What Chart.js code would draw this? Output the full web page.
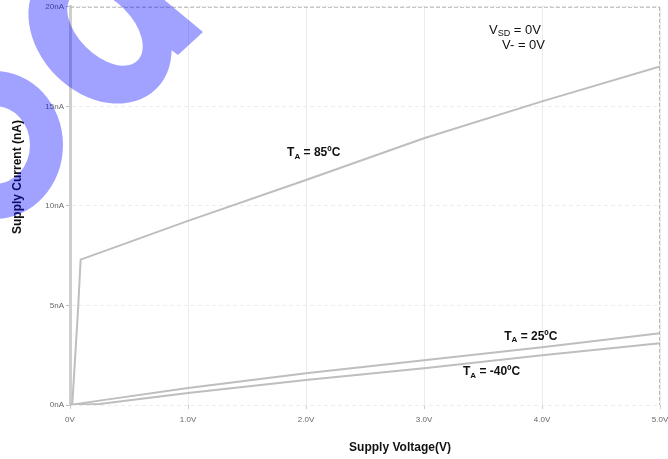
<!DOCTYPE html>
<html>
<head>
<meta charset="utf-8">
<script src="https://cdn.jsdelivr.net/npm/chart.js@4"></script>
<style>
  html, body { margin: 0; padding: 0; background: #fff; }
  #wrap { width: 668px; height: 459px; position: relative; }
</style>
</head>
<body>
<div id="wrap"><canvas id="supply-chart"></canvas></div>
<script>
// === data ===
const voltage85 = [0, 0.02, 0.05, 0.07, 0.09, 1, 2, 3, 4, 5];
const current85 = [0, 0.1, 3.0, 5.0, 7.3, 9.25, 11.3, 13.4, 15.25, 17.0];
const voltageLow = [0, 0.25, 1, 2, 3, 4, 5];
const current25 = [0, 0.22, 0.85, 1.6, 2.25, 2.9, 3.6];
const currentNeg40 = [0, 0.05, 0.6, 1.25, 1.85, 2.5, 3.1];

const xTickLabels = ["0V", "1.0V", "2.0V", "3.0V", "4.0V", "5.0V"];
const yTickLabels = ["0nA", "5nA", "10nA", "15nA", "20nA"];

// curve labels, placed in data units (volts, nA) - left edge / vertical centre
const curveLabels = [
  { pre: "T", sub: "A", text: " = 85ºC", v: 1.84, i: 12.65 },
  { pre: "T", sub: "A", text: " = 25ºC", v: 3.68, i: 3.45 },
  { pre: "T", sub: "A", text: " = -40ºC", v: 3.33, i: 1.65 }
];

const FONT = "'Liberation Sans', Arial, sans-serif";

function toPoints(xs, ys) {
  return xs.map((x, k) => ({ x: x, y: ys[k] }));
}

// draws "T" + subscript + rest, left aligned
function drawSubText(ctx, x, y, pre, sub, rest, size, bold) {
  const w = bold ? "bold " : "";
  ctx.textBaseline = "middle";
  ctx.textAlign = "left";
  ctx.font = w + size + "px " + FONT;
  ctx.fillText(pre, x, y);
  x += ctx.measureText(pre).width;
  ctx.font = w + Math.round(size * 0.7) + "px " + FONT;
  ctx.fillText(sub, x, y + size * 0.3);
  x += ctx.measureText(sub).width;
  ctx.font = w + size + "px " + FONT;
  ctx.fillText(rest, x, y);
}

const decorPlugin = {
  id: "decor",
  afterDatasetsDraw(chart) {
    const { ctx, chartArea: a, scales } = chart;
    ctx.save();
    // dashed frame top + right
    ctx.strokeStyle = "#b8b8b8";
    ctx.lineWidth = 1;
    ctx.setLineDash([4, 2]);
    ctx.beginPath();
    ctx.moveTo(a.left, a.top + 0.5);
    ctx.lineTo(a.right - 0.5, a.top + 0.5);
    ctx.moveTo(a.right - 0.5, a.top);
    ctx.lineTo(a.right - 0.5, a.bottom);
    ctx.stroke();
    ctx.setLineDash([]);

    ctx.fillStyle = "#111";
    curveLabels.forEach(l => {
      drawSubText(ctx, scales.x.getPixelForValue(l.v), scales.y.getPixelForValue(l.i),
        l.pre, l.sub, l.text, 12, true);
    });

    // conditions box
    drawSubText(ctx, 489, 30, "V", "SD", " = 0V", 13, false);
    ctx.font = "13px " + FONT;
    ctx.textAlign = "right";
    ctx.fillText("V- = 0V", 545, 45);

    // axis titles
    ctx.font = "bold 12px " + FONT;
    ctx.textAlign = "center";
    ctx.fillText("Supply Voltage(V)", 400, 448);
    ctx.save();
    ctx.translate(18, 177);
    ctx.rotate(-Math.PI / 2);
    ctx.fillText("Supply Current (nA)", 0, 0);
    ctx.restore();
    ctx.restore();
  },
  afterDraw(chart) {
    // translucent blue watermark shapes, one path so overlaps don't darken
    const ctx = chart.ctx;
    ctx.save();
    ctx.fillStyle = "rgba(0, 0, 255, 0.37)";
    ctx.beginPath();
    ctx.ellipse(100, 32, 80, 62, Math.PI / 4, 0, Math.PI * 2);
    ctx.ellipse(105, 28, 46, 27, Math.PI / 4, 0, Math.PI * 2, true);
    ctx.moveTo(150, -12);
    ctx.lineTo(203, 32);
    ctx.lineTo(178, 55);
    ctx.lineTo(155, 38);
    ctx.closePath();
    ctx.moveTo(63, 145);
    ctx.ellipse(-5, 145, 68, 74, 0, 0, Math.PI * 2);
    ctx.moveTo(30, 145);
    ctx.ellipse(-5, 145, 35, 39, 0, 0, Math.PI * 2, true);
    ctx.fill("nonzero");
    ctx.restore();
  }
};

const lineStyle = {
  borderColor: "#bebebe",
  borderWidth: 2,
  pointRadius: 0,
  showLine: true,
  fill: false,
  tension: 0
};

new Chart(document.getElementById("supply-chart").getContext("2d"), {
  type: "scatter",
  data: {
    datasets: [
      Object.assign({ label: "85C", data: toPoints(voltage85, current85) }, lineStyle),
      Object.assign({ label: "25C", data: toPoints(voltageLow, current25) }, lineStyle),
      Object.assign({ label: "-40C", data: toPoints(voltageLow, currentNeg40) }, lineStyle)
    ]
  },
  options: {
    responsive: true,
    maintainAspectRatio: false,
    animation: false,
    layout: { padding: { top: 5, right: 8, left: 0, bottom: 0 } },
    plugins: { legend: { display: false }, tooltip: { enabled: false } },
    scales: {
      x: {
        type: "linear",
        min: 0,
        max: 5,
        afterFit: s => { s.height = 54; s.paddingRight = 0; s.paddingLeft = 0; },
        border: { display: false },
        grid: { color: "#ececec", borderDash: [1, 23], tickLength: 4, tickColor: "#ccc" },
        ticks: {
          stepSize: 1,
          color: "#666",
          font: { family: FONT, size: 8 },
          padding: 6,
          callback: (v, idx) => xTickLabels[idx]
        }
      },
      y: {
        type: "linear",
        min: 0,
        max: 20,
        afterFit: s => { s.width = 70; },
        border: { color: "#cfcfcf", width: 3, dash: [4, 3] },
        grid: { color: "#ececec", borderDash: [1, 23], tickLength: 4, tickColor: "#bbb" },
        ticks: {
          stepSize: 5,
          color: "#666",
          font: { family: FONT, size: 8 },
          padding: 2,
          callback: (v, idx) => yTickLabels[idx]
        }
      }
    }
  },
  plugins: [decorPlugin]
});
</script>
</body>
</html>
